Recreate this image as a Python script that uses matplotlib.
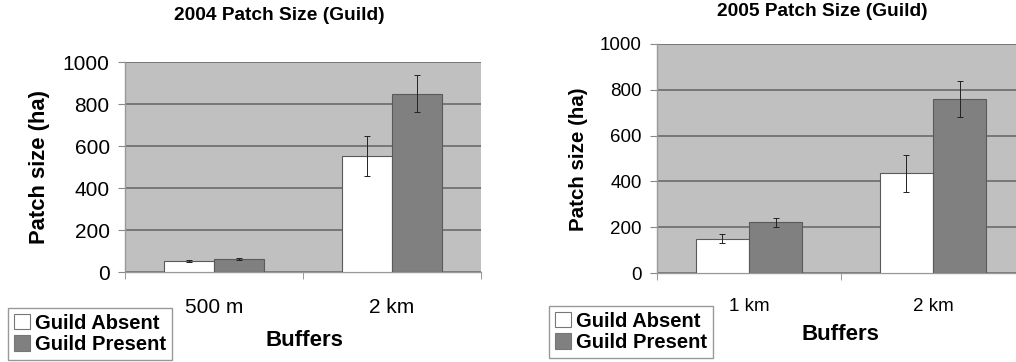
import matplotlib

matplotlib.use('Agg')
import matplotlib.pyplot as plt
from matplotlib.patches import Patch

plt.rcParams['font.family'] = ['Liberation Sans', 'DejaVu Sans']

# ----- data ---------------------------------------------------------------
SERIES = ['Guild Absent', 'Guild Present']

BUF_2004 = ['500 m', '2 km']
ABSENT_2004 = [51, 554]
ABSENT_ERR_2004 = [5, 95]
PRESENT_2004 = [62, 849]
PRESENT_ERR_2004 = [3, 88]

BUF_2005 = ['1 km', '2 km']
ABSENT_2005 = [150, 435]
ABSENT_ERR_2005 = [20, 82]
PRESENT_2005 = [221, 760]
PRESENT_ERR_2005 = [18, 78]

YTICKS = [0, 200, 400, 600, 800, 1000]

# ----- style --------------------------------------------------------------
BG = '#c0c0c0'
DARK = '#808080'
GRID = '#6a6a6a'
EDGE = '#5a5a5a'
W, H = 1016, 362


def panel(ax, cats, absent, absent_err, present, present_err,
          width, tick_fs, xlab_pad):
    x = list(range(len(cats)))
    ax.set_facecolor(BG)
    ax.set_axisbelow(True)
    ax.yaxis.grid(True, color=GRID, lw=1.2)
    ek = dict(ecolor='#222222', elinewidth=0.7, capsize=2.5, capthick=0.7)
    ax.bar([i - width / 2 for i in x], absent, width, color='white',
           edgecolor=EDGE, lw=0.8, yerr=absent_err, error_kw=ek, zorder=3)
    ax.bar([i + width / 2 for i in x], present, width, color=DARK,
           edgecolor=EDGE, lw=0.8, yerr=present_err, error_kw=ek, zorder=3)
    ax.set_xlim(-0.5, len(cats) - 0.5)
    ax.set_ylim(0, 1000)
    ax.set_yticks(YTICKS)
    ax.set_xticks(x)
    ax.set_xticklabels(cats)
    ax.set_xticks([i - 0.5 for i in range(len(cats) + 1)], minor=True)
    ax.tick_params(axis='x', which='major', length=0, pad=xlab_pad,
                   labelsize=tick_fs)
    ax.tick_params(axis='x', which='minor', length=5, color='#888888',
                   direction='out')
    ax.tick_params(axis='y', length=5, color='#888888', labelsize=tick_fs,
                   pad=6)
    for s in ('top', 'right'):
        ax.spines[s].set_visible(False)
    for s in ('left', 'bottom'):
        ax.spines[s].set_color('#999999')
        ax.spines[s].set_linewidth(1.0)


fig = plt.figure(figsize=(W / 100, H / 100), dpi=100)

ax1 = fig.add_axes([125 / W, 1 - 272 / H, 356 / W, 210 / H])
panel(ax1, BUF_2004, ABSENT_2004, ABSENT_ERR_2004, PRESENT_2004,
      PRESENT_ERR_2004, 0.28, 15, 19)
ax2 = fig.add_axes([657 / W, 1 - 273 / H, 368 / W, 229 / H])
panel(ax2, BUF_2005, ABSENT_2005, ABSENT_ERR_2005, PRESENT_2005,
      PRESENT_ERR_2005, 0.29, 13.5, 18)

fig.text(279 / W, 1 - 16 / H, '2004 Patch Size (Guild)', ha='center',
         va='center', fontsize=13.8, fontweight='bold')
fig.text(822 / W, 1 - 12 / H, '2005 Patch Size (Guild)', ha='center',
         va='center', fontsize=13.8, fontweight='bold')

fig.text(40 / W, 1 - 167 / H, 'Patch size (ha)', rotation=90, ha='center',
         va='center', fontsize=15.8, fontweight='bold')
fig.text(578 / W, 1 - 159 / H, 'Patch size (ha)', rotation=90, ha='center',
         va='center', fontsize=14.8, fontweight='bold')

fig.text(304 / W, 1 - 340 / H, 'Buffers', ha='center', va='center',
         fontsize=16, fontweight='bold')
fig.text(840 / W, 1 - 335 / H, 'Buffers', ha='center', va='center',
         fontsize=16, fontweight='bold')

handles = [Patch(facecolor='white', edgecolor='#777777', lw=0.8),
           Patch(facecolor=DARK, edgecolor='#777777', lw=0.8)]
for x0, y0 in ((8, 2), (549, 4)):
    fig.legend(handles, SERIES, loc='lower left',
               bbox_to_anchor=(x0 / W, y0 / H), frameon=True, fancybox=False,
               edgecolor='#999999', framealpha=1, borderpad=0.3,
               handlelength=0.8, handleheight=0.8, handletextpad=0.25,
               labelspacing=0.12, borderaxespad=0,
               prop={'weight': 'bold', 'size': 14.5})

fig.savefig('out.png', dpi=100)
